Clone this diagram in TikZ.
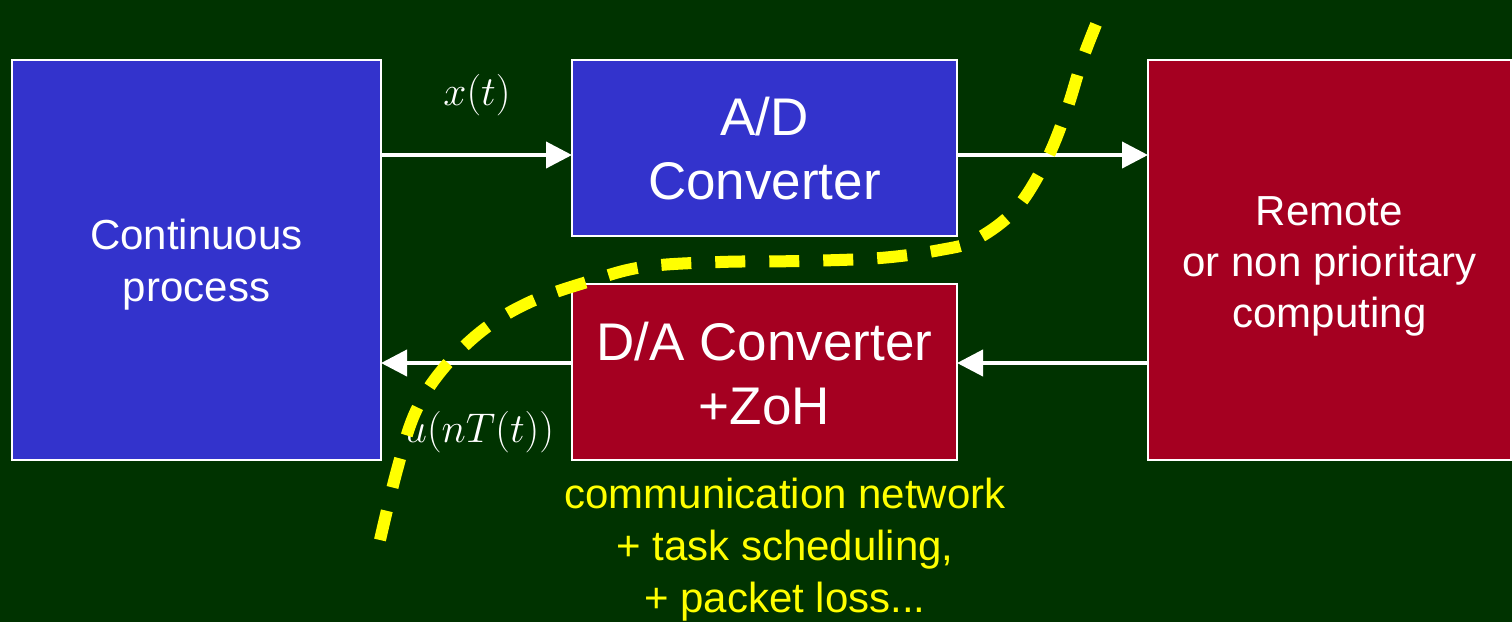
\documentclass[tikz,border=0pt]{standalone}
\usepackage{fontspec}
\setmainfont{Liberation Sans}
\usetikzlibrary{arrows.meta}

\definecolor{fondo}{HTML}{003300}
\definecolor{azul}{HTML}{3333CC}
\definecolor{rojo}{HTML}{A50021}
\definecolor{amarillo}{HTML}{FFFF00}

\begin{document}
\begin{tikzpicture}[x=0.5pt,y=-0.5pt,
	caja/.style={draw=white, line width=0.75pt, inner sep=0pt, outer sep=0pt},
	texto/.style={align=center, text=white},
	flujo/.style={draw=white, line width=2pt, -{Triangle[length=13pt,width=13pt]}},
	etiqueta/.style={text=white, font=\fontsize{21}{25}\selectfont},
	red/.style={amarillo, line width=6pt, dash pattern=on 15pt off 12pt}]
	
	% Fondo
	\fill[fondo] (0,0) rectangle (1512,622);
	
	% Proceso continuo
	\draw (196.5,260) node[caja, fill=azul, minimum width=184.5pt, minimum height=200pt] (proceso) {};
	
	\node[texto, font=\fontsize{21}{26}\selectfont] at ([yshift=-2.5pt]proceso.center)
	{Continuous \\ process};
	
	% Conversor A/D
	\draw (764.5,148) node[caja, fill=azul, minimum width=192.5pt, minimum height=88pt] (ad) {};
	
	\node[texto, font=\fontsize{26.5}{32}\selectfont] at ([yshift=-0.5pt]ad.center)
	{A/D \\ Converter};
	
	% Conversor D/A
	\draw (764.5,372) node[caja, fill=rojo, minimum width=192.5pt, minimum height=88pt] (da) {};
	
	\node[texto, font=\fontsize{26.5}{32}\selectfont] at ([yshift=-1pt]da.center)
	{D/A Converter \\ +ZoH};
	
	% Calculo remoto
	\draw (1329.5,260) node[caja, fill=rojo, minimum width=181.5pt, minimum height=200pt] (remoto) {};
	
	\node[texto, font=\fontsize{21}{25.5}\selectfont] at ([yshift=-3pt]remoto.center)
	{Remote \\ or non prioritary \\ computing};
	
	% Flechas
	\coordinate (adizq) at ([yshift=-3.5pt]ad.west);
	\coordinate (adder) at ([yshift=-3.5pt]ad.east);
	\coordinate (daizq) at ([yshift=4.5pt]da.west);
	\coordinate (dader) at ([yshift=4.5pt]da.east);
	
	\draw [flujo] (adizq -| proceso.east) -- (adizq);
	\draw [flujo] (adder) -- (adder -| remoto.west);
	\draw [flujo] (dader -| remoto.west) -- (dader);
	\draw [flujo] (daizq) -- (daizq -| proceso.east);
	
	% Senales
	\draw (477,95) node[etiqueta] (xt) {$x(t)$};
	\draw (479,432) node[etiqueta, font=\fontsize{22.5}{26}\selectfont] (unt) {$u(nT(t))$};
	
	% Red de comunicacion
	\draw [red] plot[smooth, tension=0.6] coordinates {
		(380,540) (397,470) (415,413) (442,370) (483,330) (530,302) (587,282)
		(643,267) (720,262) (800,261) (880,258) (940,250) (975,240) (1015,210)
		(1045,163) (1066,112) (1083,58) (1102,10)};
	
	\draw (785,550) node[text=amarillo, align=center, font=\fontsize{21}{26}\selectfont] (nota)
	{
		communication network \\
		+ task scheduling, \\
		+ packet loss...
	};
	
\end{tikzpicture}
\end{document}
